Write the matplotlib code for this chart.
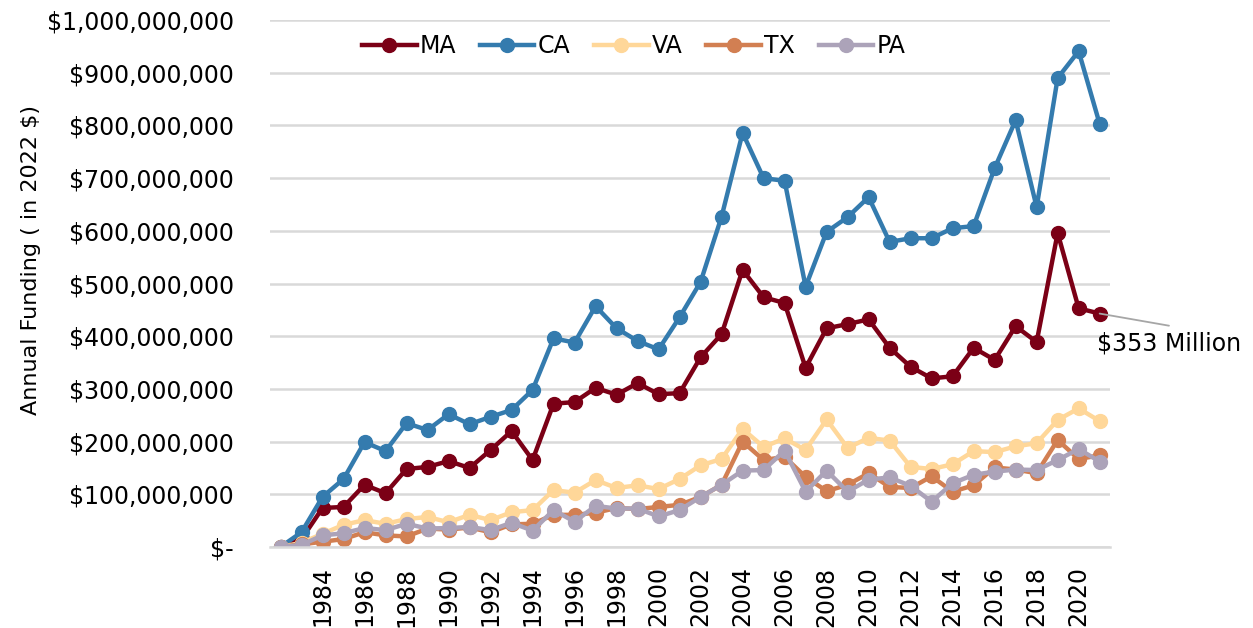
import matplotlib
matplotlib.use("Agg")
import matplotlib.pyplot as plt
from matplotlib.ticker import FuncFormatter

years = list(range(1982, 2022))

ma = [0, 15, 74, 76, 118, 102, 148, 152, 163, 150, 184, 220, 165, 272,
      275, 302, 289, 311, 290, 292, 360, 404, 526, 474, 463, 340, 415,
      423, 432, 378, 342, 320, 324, 378, 355, 419, 389, 596, 453, 443]
ca = [0, 28, 95, 129, 199, 182, 235, 222, 252, 233, 247, 260, 298, 396,
      388, 457, 415, 391, 375, 436, 503, 627, 786, 700, 695, 494, 598,
      626, 664, 579, 586, 586, 605, 609, 719, 810, 645, 890, 941, 803]
va = [0, 8, 25, 42, 51, 44, 53, 57, 47, 61, 51, 66, 70, 108,
      103, 127, 112, 117, 110, 129, 155, 167, 224, 190, 206, 184, 242,
      188, 207, 202, 152, 148, 157, 182, 180, 191, 197, 241, 263, 239]
tx = [0, 5, 10, 15, 28, 22, 20, 35, 33, 37, 28, 43, 44, 61,
      61, 65, 74, 72, 76, 80, 95, 118, 200, 165, 171, 133, 106,
      118, 140, 114, 112, 134, 105, 117, 151, 147, 140, 203, 167, 174]
pa = [0, 4, 22, 26, 36, 32, 44, 35, 36, 38, 32, 46, 31, 70,
      48, 78, 73, 73, 58, 70, 95, 118, 145, 146, 183, 105, 145,
      105, 128, 132, 116, 86, 121, 137, 143, 147, 146, 165, 186, 162]

series = [("MA", ma, "#7B0016"), ("CA", ca, "#347BAE"), ("VA", va, "#FFD799"),
          ("TX", tx, "#D27F52"), ("PA", pa, "#ACA3B9")]
annotation = "$353 Million"

fig = plt.figure(figsize=(12.53, 6.28), dpi=100)
ax = fig.add_axes([0.2155, 0.129, 0.6705, 0.839])

x = list(range(len(years)))
for name, vals, col in series:
    ax.plot(x, [v * 1e6 for v in vals], color=col, lw=3.2, marker="o",
            markersize=10, label=name, solid_joinstyle="round")

ax.set_xlim(-0.5, len(years) - 0.5)
ax.set_ylim(0, 1e9)
ax.set_yticks([i * 1e8 for i in range(11)])

def fmt(v, pos):
    if v == 0:
        return "$-"
    return "${:,.0f}".format(v)
ax.yaxis.set_major_formatter(FuncFormatter(fmt))

tick_idx = [i for i, y in enumerate(years) if y % 2 == 0 and y >= 1984]
ax.set_xticks(tick_idx)
ax.set_xticklabels([str(years[i]) for i in tick_idx], rotation=90)

ax.grid(axis="y", color="#D9D9D9", lw=1.8)
ax.set_axisbelow(True)
for s in ["top", "right", "left"]:
    ax.spines[s].set_visible(False)
ax.spines["bottom"].set_color("#D9D9D9")
ax.spines["bottom"].set_linewidth(1.8)
ax.tick_params(axis="both", length=0, labelsize=17, colors="black")
ax.tick_params(axis="y", pad=26)
ax.tick_params(axis="x", pad=14)

ax.set_ylabel("Annual Funding ( in 2022 $)", fontsize=16)
ax.yaxis.set_label_coords(-0.273, 0.545)

leg = ax.legend(loc="center", bbox_to_anchor=(0.433, 0.95), ncol=5,
                frameon=False, fontsize=17, handlelength=2.3,
                columnspacing=1.0, handletextpad=0.15)

last = len(years) - 1
ax.annotate("", xy=(last, ma[-1] * 1e6), xytext=(last + 3.3, 420e6),
            arrowprops=dict(arrowstyle="-", color="#A6A6A6", lw=1.3,
                            shrinkA=0, shrinkB=0),
            annotation_clip=False)
ax.text(last - 0.15, 386e6, annotation, fontsize=17, ha="left", va="center",
        clip_on=False)

fig.savefig("out.png", dpi=100)
